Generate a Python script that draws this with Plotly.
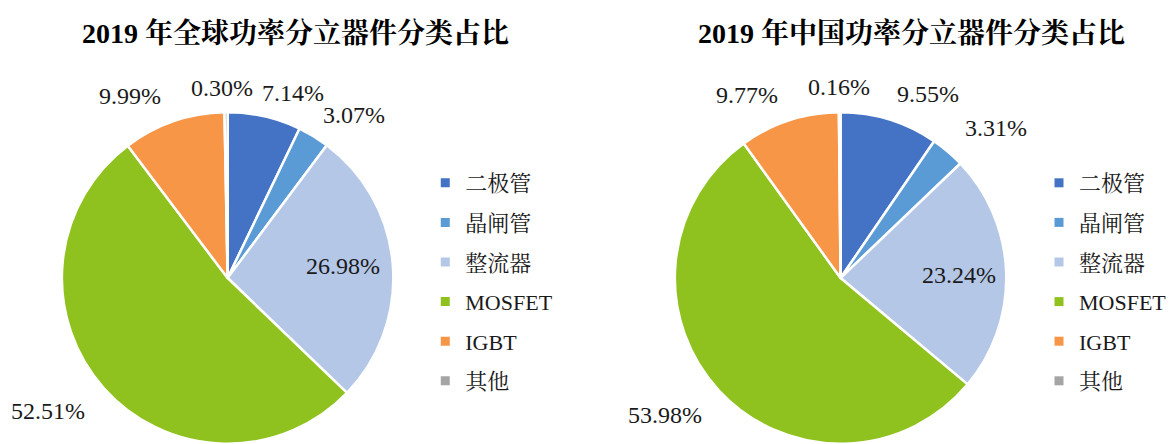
import plotly.graph_objects as go

categories = ["二极管", "晶闸管", "整流器", "MOSFET", "IGBT", "其他"]
global_values = [7.14, 3.07, 26.98, 52.51, 9.99, 0.30]
china_values = [9.55, 3.31, 23.24, 53.98, 9.77, 0.16]
titles = ["2019 年全球功率分立器件分类占比", "2019 年中国功率分立器件分类占比"]

colors = ["#4472C4", "#5B9BD5", "#B4C7E7", "#8FC21F", "#F79646", "#A5A5A5"]
SERIF = "Liberation Serif, Noto Serif CJK SC, Noto Sans CJK SC, serif"
W, H = 1172, 444

# label anchor positions (pixels, from top-left) per slice, for each pie
global_label_pos = [(293, 93), (355, 115), (344, 266), (48, 411), (130, 96), (222, 88)]
china_label_pos = [(930, 94), (998, 128), (961, 275), (666, 415), (748, 95), (840, 87)]

pies = [
    dict(values=global_values, cx=228, cy=278, legend="legend", labelpos=global_label_pos,
         title=titles[0], tx=296),
    dict(values=china_values, cx=842, cy=278, legend="legend2", labelpos=china_label_pos,
         title=titles[1], tx=913),
]

R = 166
fig = go.Figure()
annotations = []
for k, p in enumerate(pies):
    fig.add_trace(go.Pie(
        labels=categories, values=p["values"], sort=False, direction="clockwise",
        rotation=0, textinfo="none", hoverinfo="label+percent",
        marker=dict(colors=colors, line=dict(color="white", width=2.5)),
        domain=dict(x=[(p["cx"] - R) / W, (p["cx"] + R) / W],
                    y=[(H - p["cy"] - R) / H, (H - p["cy"] + R) / H]),
        showlegend=False,
    ))
    # legend entries (one per category, so each gets its own legend group / gap)
    for cat, col in zip(categories, colors):
        fig.add_trace(go.Scatter(
            x=[None], y=[None], mode="markers", name=cat,
            marker=dict(symbol="square", size=9, color=col),
            legend=p["legend"], legendgroup=f"{k}-{cat}", showlegend=True,
            hoverinfo="skip",
        ))
    for v, (lx, ly) in zip(p["values"], p["labelpos"]):
        annotations.append(dict(
            x=lx / W, y=1 - ly / H, xref="paper", yref="paper", showarrow=False,
            text=f"{v:.2f}%", font=dict(family=SERIF, size=24, color="#1a1a1a"),
            xanchor="center", yanchor="middle"))
    annotations.append(dict(
        x=p["tx"] / W, y=1 - 33 / H, xref="paper", yref="paper", showarrow=False,
        text=f"<b>{p['title']}</b>", font=dict(family=SERIF, size=28, color="#000000"),
        xanchor="center", yanchor="middle"))

legend_common = dict(
    font=dict(family=SERIF, size=22, color="#1a1a1a"),
    bgcolor="rgba(0,0,0,0)", traceorder="grouped", tracegroupgap=8,
    yanchor="top", xanchor="left", itemwidth=30,
)

fig.update_layout(
    width=W, height=H,
    margin=dict(l=0, r=0, t=0, b=0),
    paper_bgcolor="white", plot_bgcolor="white",
    xaxis=dict(visible=False), yaxis=dict(visible=False),
    annotations=annotations,
    legend=dict(x=426 / W, y=1 - 162 / H, **legend_common),
    legend2=dict(x=1041 / W, y=1 - 162 / H, **legend_common),
)

fig.write_html(
    "out.html",
    config={"displayModeBar": False},
    post_script="document.body.style.margin='0';document.body.style.overflow='hidden';",
)
